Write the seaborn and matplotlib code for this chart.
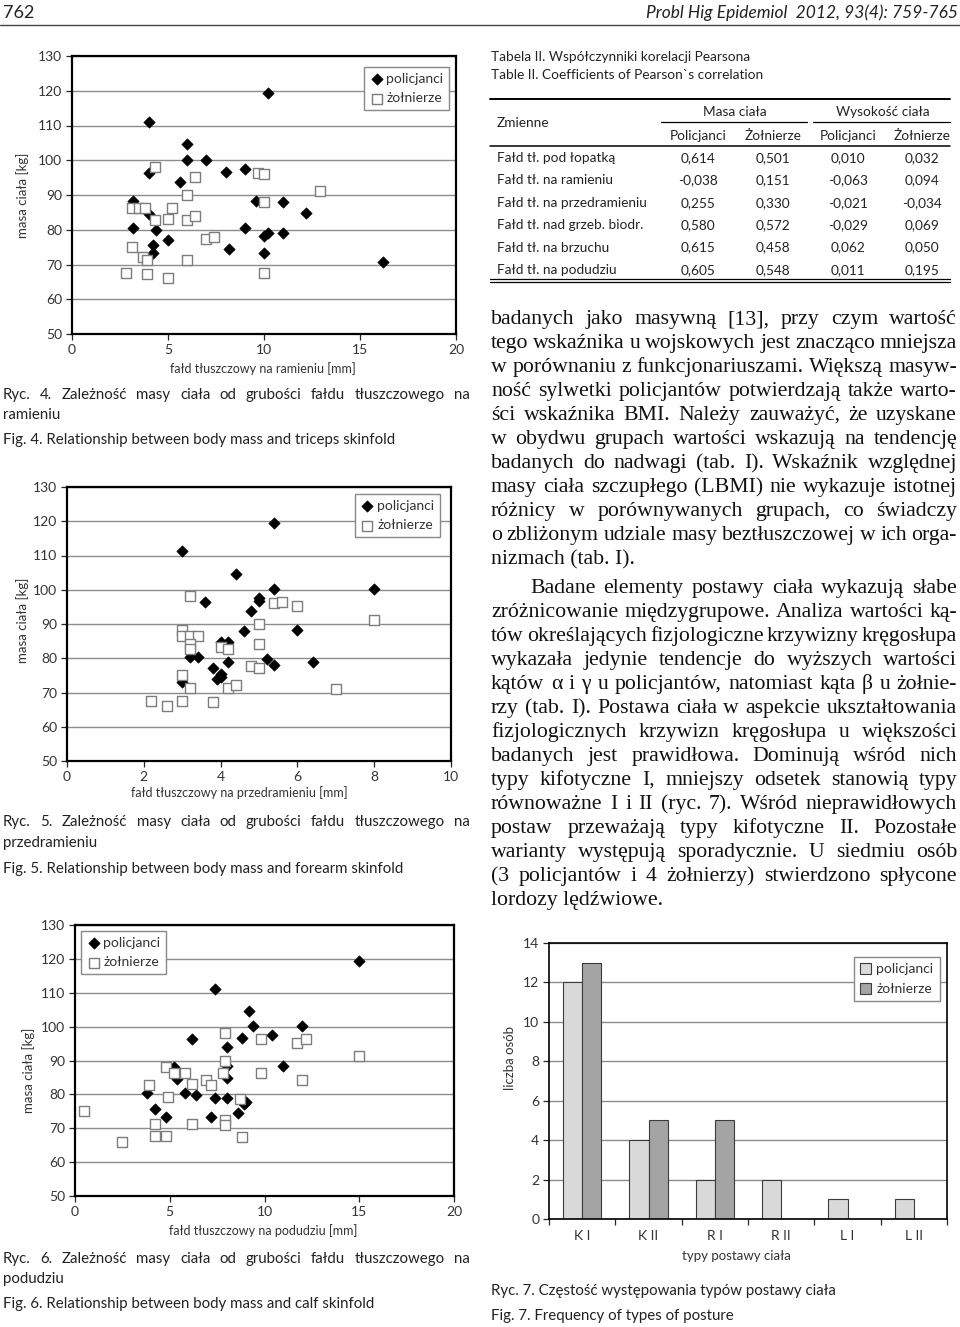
import numpy as np
import pandas as pd
import matplotlib
matplotlib.use("Agg")
import matplotlib.pyplot as plt
import seaborn as sns

# ---------------- data ----------------
# Ryc. 4 - fałd na ramieniu
ram_pol_x = [10.2, 4.0, 6.0, 6.0, 7.0, 4.0, 9.0, 8.0, 5.6, 3.2, 9.6, 11.0, 12.2, 4.0, 3.2, 4.4,
             9.0, 5.0, 10.0, 10.2, 11.0, 4.2, 4.2, 8.2, 10.0, 16.2]
ram_pol_y = [119.3, 111.1, 104.6, 100.0, 100.0, 96.3, 97.6, 96.7, 93.8, 88.2, 88.2, 88.0, 84.9, 84.5,
             80.4, 80.0, 80.4, 77.0, 78.1, 79.0, 79.0, 75.6, 73.4, 74.5, 73.4, 70.8]
ram_zol_x = [4.3, 6.4, 9.7, 10.0, 12.9, 6.0, 3.1, 3.5, 3.8, 5.2, 10.0, 4.3, 5.0, 6.0, 6.4, 7.0, 7.4,
             3.1, 3.7, 3.9, 6.0, 2.8, 3.9, 5.0, 10.0]
ram_zol_y = [98.0, 95.2, 96.4, 96.1, 91.1, 90.0, 86.2, 86.2, 86.2, 86.2, 88.0, 82.8, 83.1, 82.8, 84.0,
             77.2, 77.8, 75.0, 72.2, 71.3, 71.3, 67.6, 67.3, 66.0, 67.6]

# Ryc. 5 - fałd na przedramieniu
prz_pol_x = [5.4, 3.0, 4.4, 5.4, 8.0, 3.6, 5.0, 5.0, 4.8, 4.6, 6.0, 4.0, 4.2, 3.2, 3.4, 4.2, 5.2,
             5.4, 6.4, 3.8, 4.0, 4.0, 3.9, 3.0]
prz_pol_y = [119.4, 111.3, 104.7, 100.1, 100.1, 96.3, 97.6, 96.6, 93.9, 88.0, 88.2, 84.6, 84.8, 80.5,
             80.5, 78.9, 79.8, 78.0, 78.9, 77.1, 75.5, 74.5, 73.8, 73.2]
prz_zol_x = [3.2, 5.4, 5.6, 6.0, 8.0, 5.0, 3.0, 3.0, 3.2, 3.4, 3.2, 3.2, 4.0, 4.2, 5.0, 4.8, 5.0,
             3.0, 3.2, 4.2, 4.4, 7.0, 2.2, 2.6, 3.0, 3.8]
prz_zol_y = [98.1, 96.2, 96.5, 95.3, 91.2, 90.0, 88.2, 86.4, 86.4, 86.4, 84.3, 82.7, 83.2, 82.8, 84.1,
             77.8, 77.2, 75.1, 71.2, 71.2, 72.2, 71.0, 67.6, 66.1, 67.6, 67.3]

# Ryc. 6 - fałd na podudziu
pod_pol_x = [15.0, 7.4, 9.2, 9.4, 12.0, 6.2, 8.8, 10.4, 8.0, 5.2, 8.0, 11.0, 5.4, 8.0, 3.8, 5.8,
             6.4, 7.4, 8.0, 9.0, 8.9, 4.2, 8.6, 4.8, 7.2]
pod_pol_y = [119.4, 111.2, 104.7, 100.1, 100.1, 96.3, 96.7, 97.6, 93.9, 88.1, 88.4, 88.3, 84.5, 84.9,
             80.5, 80.5, 79.9, 79.0, 79.0, 77.8, 77.2, 75.6, 74.6, 73.4, 73.4]
pod_zol_x = [7.9, 9.8, 11.7, 12.2, 15.0, 7.9, 4.8, 5.2, 5.8, 7.8, 9.8, 3.9, 6.2, 6.9, 7.2, 12.0, 4.9,
             8.7, 0.5, 4.2, 6.2, 7.9, 7.9, 4.2, 4.8, 8.8, 2.5]
pod_zol_y = [98.1, 96.4, 95.2, 96.2, 91.2, 90.0, 88.1, 86.3, 86.3, 86.3, 86.3, 82.9, 83.2, 84.1, 82.9,
             84.1, 79.2, 78.5, 75.1, 71.3, 71.3, 72.3, 71.1, 67.7, 67.7, 67.3, 66.0]

# Ryc. 7 - typy postawy
postawa = ['K I', 'K II', 'R I', 'R II', 'L I', 'L II']
post_pol = [12, 4, 2, 2, 1, 1]
post_zol = [13, 5, 5, 0, 0, 0]

# Tabela II
zmienne = ['Fałd tł. pod łopatką', 'Fałd tł. na ramieniu', 'Fałd tł. na przedramieniu',
           'Fałd tł. nad grzeb. biodr.', 'Fałd tł. na brzuchu', 'Fałd tł. na podudziu']
masa_pol = ['0,614', '-0,038', '0,255', '0,580', '0,615', '0,605']
masa_zol = ['0,501', '0,151', '0,330', '0,572', '0,458', '0,548']
wys_pol = ['0,010', '-0,063', '-0,021', '-0,029', '0,062', '0,011']
wys_zol = ['0,032', '0,094', '-0,034', '0,069', '0,050', '0,195']

body_par1 = [
    "badanych jako masywną [13], przy czym wartość",
    "tego wskaźnika u wojskowych jest znacząco mniejsza",
    "w porównaniu z funkcjonariuszami. Większą masyw-",
    "ność sylwetki policjantów potwierdzają także warto-",
    "ści wskaźnika BMI. Należy zauważyć, że uzyskane",
    "w obydwu grupach wartości wskazują na tendencję",
    "badanych do nadwagi (tab. I). Wskaźnik względnej",
    "masy ciała szczupłego (LBMI) nie wykazuje istotnej",
    "różnicy w porównywanych grupach, co świadczy",
    "o zbliżonym udziale masy beztłuszczowej w ich orga-",
    "nizmach (tab. I).",
]
body_par2 = [
    "Badane elementy postawy ciała wykazują słabe",
    "zróżnicowanie międzygrupowe. Analiza wartości ką-",
    "tów określających fizjologiczne krzywizny kręgosłupa",
    "wykazała jedynie tendencje do wyższych wartości",
    "kątów α i γ u policjantów, natomiast kąta β u żołnie-",
    "rzy (tab. I). Postawa ciała w aspekcie ukształtowania",
    "fizjologicznych krzywizn kręgosłupa u większości",
    "badanych jest prawidłowa. Dominują wśród nich",
    "typy kifotyczne I, mniejszy odsetek stanowią typy",
    "równoważne I i II (ryc. 7). Wśród nieprawidłowych",
    "postaw przeważają typy kifotyczne II. Pozostałe",
    "warianty występują sporadycznie. U siedmiu osób",
    "(3 policjantów i 4 żołnierzy) stwierdzono spłycone",
    "lordozy lędźwiowe.",
]

# ---------------- style ----------------
sns.set_style("white")
SANS = ['Lato', 'DejaVu Sans']
SERIF = ['Liberation Serif', 'DejaVu Serif']
plt.rcParams['font.family'] = SANS
plt.rcParams['axes.unicode_minus'] = False

W, H = 960, 1327
fig = plt.figure(figsize=(W / 100, H / 100), dpi=100)
fig.patch.set_facecolor('white')
page = fig.add_axes([0, 0, 1, 1], zorder=-1)
page.set_xlim(0, W)
page.set_ylim(H, 0)
page.axis('off')
renderer = fig.canvas.get_renderer()


def px_axes(l, t, r, b):
    return fig.add_axes([l / W, 1 - b / H, (r - l) / W, (b - t) / H])


def text_width(s, **kw):
    t = page.text(0, 0, s, **kw)
    w = t.get_window_extent(renderer).width
    t.remove()
    return w


def put_line(s, x0, x1, y, justify, **kw):
    words = s.split(' ')
    if not justify or len(words) < 2:
        page.text(x0, y, s, va='baseline', ha='left', **kw)
        return
    ws = [text_width(w, **kw) for w in words]
    gap = (x1 - x0 - sum(ws)) / (len(words) - 1)
    x = x0
    for w, wd in zip(words, ws):
        page.text(x, y, w, va='baseline', ha='left', **kw)
        x += wd + gap


# ---------------- header ----------------
page.text(3, 18, '762', fontsize=13, color='#222', va='baseline')
page.text(958, 18, 'Probl Hig Epidemiol  2012, 93(4): 759-765', fontsize=12.5,
          style='italic', color='#222', ha='right', va='baseline')
page.plot([0, W], [25, 25], color='#444', lw=1.0)


# ---------------- scatter panels ----------------
def scatter_panel(box, pxs, pys, sxs, sys_, xmax, xstep, xlabel, xlab_pos, ylab_pos,
                  leg_loc, leg_anchor):
    ax = px_axes(*box)
    sns.scatterplot(x=pxs, y=pys, ax=ax, marker='D', s=34, color='black',
                    edgecolor='black', linewidth=0.4, label='policjanci', zorder=3)
    sns.scatterplot(x=sxs, y=sys_, ax=ax, marker='s', s=48, color='white',
                    edgecolor='#7d7d7d', linewidth=1.0, label='żołnierze', zorder=3)
    ax.set_xlim(0, xmax)
    ax.set_ylim(50, 130)
    ax.set_xticks(np.arange(0, xmax + 0.01, xstep))
    ax.set_yticks(np.arange(50, 131, 10))
    ax.grid(False)
    ax.grid(axis='y', color='#8c8c8c', lw=1.0)
    ax.set_axisbelow(True)
    for sp in ax.spines.values():
        sp.set_visible(True)
        sp.set_color('black')
        sp.set_linewidth(1.6)
    ax.tick_params(direction='out', length=4, width=0.9, labelsize=10, labelcolor='#333',
                   left=True, bottom=True, pad=3)
    ax.set_xlabel(xlabel, fontsize=9, color='#333')
    ax.xaxis.set_label_coords(*xlab_pos)
    ax.set_ylabel('masa ciała [kg]', fontsize=9.5, color='#333')
    ax.yaxis.set_label_coords(*ylab_pos)
    leg = ax.legend(loc=leg_loc, bbox_to_anchor=leg_anchor, frameon=True, fancybox=False,
                    edgecolor='#888888', framealpha=1, fontsize=10, handletextpad=0.2,
                    borderpad=0.4, labelspacing=0.55, handlelength=1.0, borderaxespad=0)
    leg.get_frame().set_linewidth(1.0)
    for t in leg.get_texts():
        t.set_color('#333')
    return ax


scatter_panel((72, 56, 456, 334), ram_pol_x, ram_pol_y, ram_zol_x, ram_zol_y, 20, 5,
              'fałd tłuszczowy na ramieniu [mm]', (0.497, -0.10), (-0.112, 0.5),
              'upper right', (0.982, 0.960))
scatter_panel((67, 487, 451, 761), prz_pol_x, prz_pol_y, prz_zol_x, prz_zol_y, 10, 2,
              'fałd tłuszczowy na przedramieniu [mm]', (0.45, -0.091), (-0.099, 0.515),
              'upper right', (0.971, 0.974))
scatter_panel((75, 925, 454, 1196), pod_pol_x, pod_pol_y, pod_zol_x, pod_zol_y, 20, 5,
              'fałd tłuszczowy na podudziu [mm]', (0.496, -0.103), (-0.106, 0.465),
              'upper left', (0.016, 0.978))

# ---------------- bar chart ----------------
ax4 = px_axes(549, 943, 947, 1219)
df = pd.DataFrame({'typ': postawa * 2,
                   'liczba': post_pol + post_zol,
                   'grupa': ['policjanci'] * len(postawa) + ['żołnierze'] * len(postawa)})
sns.barplot(data=df, x='typ', y='liczba', hue='grupa',
            palette={'policjanci': '#d9d9d9', 'żołnierze': '#a4a4a4'},
            width=0.58, gap=0, edgecolor='#3c3c3c', linewidth=0.8, ax=ax4, zorder=2)
ax4.set_xlim(-0.5, len(postawa) - 0.5)
ax4.set_ylim(0, 14)
ax4.set_yticks(np.arange(0, 15, 2))
ax4.set_xticks(np.arange(-0.5, len(postawa), 1))
ax4.set_xticklabels([''] * (len(postawa) + 1))
ax4.set_xticks(range(len(postawa)), minor=True)
ax4.set_xticklabels(postawa, minor=True)
ax4.grid(False)
ax4.grid(axis='y', color='#8c8c8c', lw=1.0)
ax4.set_axisbelow(True)
for sp in ax4.spines.values():
    sp.set_visible(True)
    sp.set_color('black')
    sp.set_linewidth(1.2)
ax4.tick_params(axis='both', which='major', direction='out', length=4, width=0.9,
                labelsize=10, labelcolor='#333', left=True, bottom=True, pad=3)
ax4.tick_params(axis='x', which='minor', length=0, labelsize=10, labelcolor='#333', pad=8)
ax4.set_xlabel('typy postawy ciała', fontsize=9.5, color='#333')
ax4.xaxis.set_label_coords(0.472, -0.112)
ax4.set_ylabel('liczba osób', fontsize=9.5, color='#333')
ax4.yaxis.set_label_coords(-0.083, 0.583)
h, l = ax4.get_legend_handles_labels()
leg4 = ax4.legend(h, l, loc='upper right', bbox_to_anchor=(0.982, 0.949), frameon=True,
                  fancybox=False, edgecolor='#888888', framealpha=1, fontsize=10,
                  handletextpad=0.4, borderpad=0.45, labelspacing=0.55, handlelength=0.8,
                  handleheight=0.8, borderaxespad=0, title=None)
leg4.get_frame().set_linewidth(1.0)
for t in leg4.get_texts():
    t.set_color('#333')

# ---------------- captions ----------------
CAP = dict(fontsize=10.8, color='#222', family=SANS)
put_line('Ryc. 4. Zależność masy ciała od grubości fałdu tłuszczowego na', 3, 470, 399, True, **CAP)
put_line('ramieniu', 3, 470, 419, False, **CAP)
put_line('Fig. 4. Relationship between body mass and triceps skinfold', 3, 470, 444, False, **CAP)
put_line('Ryc. 5. Zależność masy ciała od grubości fałdu tłuszczowego na', 3, 470, 826, True, **CAP)
put_line('przedramieniu', 3, 470, 847, False, **CAP)
put_line('Fig. 5. Relationship between body mass and forearm skinfold', 3, 470, 873, False, **CAP)
put_line('Ryc. 6. Zależność masy ciała od grubości fałdu tłuszczowego na', 3, 470, 1263, True, **CAP)
put_line('podudziu', 3, 470, 1283, False, **CAP)
put_line('Fig. 6. Relationship between body mass and calf skinfold', 3, 470, 1308, False, **CAP)
put_line('Ryc. 7. Częstość występowania typów postawy ciała', 491, 958, 1295, False, **CAP)
put_line('Fig. 7. Frequency of types of posture', 491, 958, 1320, False, **CAP)

# ---------------- table ----------------
TAB = dict(fontsize=9.8, color='#222', family=SANS)
page.text(491, 61, 'Tabela II. Współczynniki korelacji Pearsona', va='baseline', **TAB)
page.text(491, 79, 'Table II. Coefficients of Pearson`s correlation', va='baseline', **TAB)
page.plot([490, 950], [99, 99], color='black', lw=1.4)
page.text(735, 116, 'Masa ciała', ha='center', va='baseline', **TAB)
page.text(883, 116, 'Wysokość ciała', ha='center', va='baseline', **TAB)
page.plot([661, 807], [122, 122], color='black', lw=0.9)
page.plot([813, 950], [122, 122], color='black', lw=0.9)
page.text(497, 127, 'Zmienne', va='baseline', **TAB)
col_x = [698, 773, 848, 922]
for cx, lab in zip(col_x, ['Policjanci', 'Żołnierze', 'Policjanci', 'Żołnierze']):
    page.text(cx, 139.5, lab, ha='center', va='baseline', **TAB)
page.plot([490, 950], [146, 146], color='black', lw=1.1)
row_y = [162, 184.5, 207, 229, 251.5, 274]
for i, ry in enumerate(row_y):
    page.text(497, ry, zmienne[i], va='baseline', **TAB)
    for cx, col in zip(col_x, [masa_pol, masa_zol, wys_pol, wys_zol]):
        page.text(cx, ry, col[i], ha='center', va='baseline', **TAB)
page.plot([490, 950], [278.5, 278.5], color='black', lw=0.9)
page.plot([490, 950], [281.5, 281.5], color='black', lw=0.9)

# ---------------- body text ----------------
BX0, BX1 = 491, 957
INDENT = 530
test_fs = 14
sp_w = text_width('a a', fontsize=test_fs, family=SERIF) - text_width('aa', fontsize=test_fs, family=SERIF)
ks = []
just_lines = [(s, BX0) for s in body_par1[:-1]] + [(body_par2[0], INDENT)] + \
             [(s, BX0) for s in body_par2[1:-1]]
for s, x0 in just_lines:
    words = s.split(' ')
    wsum = sum(text_width(w, fontsize=test_fs, family=SERIF) for w in words)
    ks.append((BX1 - x0) / (wsum + 0.45 * (len(words) - 1) * sp_w))
body_fs = min(16.5, test_fs * min(ks))
BODY = dict(fontsize=body_fs, color='#111', family=SERIF)

y = 324
for i, s in enumerate(body_par1):
    put_line(s, BX0, BX1, y, i < len(body_par1) - 1, **BODY)
    y += 24.0
y = 593
for i, s in enumerate(body_par2):
    x0 = INDENT if i == 0 else BX0
    put_line(s, x0, BX1, y, i < len(body_par2) - 1, **BODY)
    y += 24.0

fig.savefig('out.png', dpi=100, facecolor='white')
